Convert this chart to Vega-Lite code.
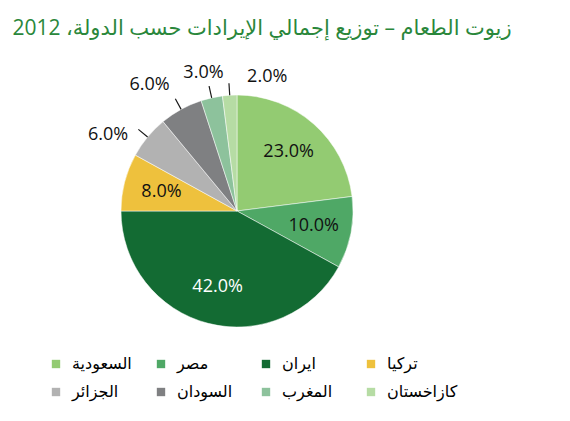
{
  "$schema": "https://vega.github.io/schema/vega-lite/v6.json",
  "autosize": {"type": "none"},
  "width": 474,
  "height": 302,
  "padding": {"top": 60, "left": 0, "right": 96, "bottom": 59},
  "background": "#ffffff",
  "title": {
    "text": "\u202bزيوت الطعام – توزيع إجمالي الإيرادات حسب الدولة، 2012\u202c",
    "font": "Open Sans, DejaVu Sans",
    "fontSize": 21,
    "fontWeight": "normal",
    "color": "#2a873b",
    "anchor": "middle",
    "frame": "group",
    "baseline": "alphabetic",
    "offset": 4,
    "dx": 25
  },
  "data": {
    "values": [
      {"country": "السعودية", "share": 0.23, "rank": 1},
      {"country": "مصر", "share": 0.10, "rank": 2},
      {"country": "ايران", "share": 0.42, "rank": 3},
      {"country": "تركيا", "share": 0.08, "rank": 4},
      {"country": "الجزائر", "share": 0.06, "rank": 5},
      {"country": "السودان", "share": 0.06, "rank": 6},
      {"country": "المغرب", "share": 0.03, "rank": 7},
      {"country": "كازاخستان", "share": 0.02, "rank": 8}
    ]
  },
  "encoding": {
    "theta": {"field": "share", "type": "quantitative", "stack": true},
    "order": {"field": "rank", "type": "quantitative"}
  },
  "layer": [
    {
      "mark": {"type": "arc", "radius": 116, "stroke": "#ffffff", "strokeWidth": 0.5},
      "encoding": {
        "color": {
          "field": "country",
          "type": "nominal",
          "sort": null,
          "scale": {
            "domain": ["السعودية", "مصر", "ايران", "تركيا", "الجزائر", "السودان", "المغرب", "كازاخستان"],
            "range": ["#93cb72", "#4fa866", "#136b33", "#eec13d", "#b2b2b2", "#7f8082", "#8dc29c", "#b6dca4"]
          },
          "legend": {
            "orient": "none",
            "legendX": 48,
            "legendY": 296,
            "direction": "horizontal",
            "columns": 4,
            "title": null,
            "padding": 0,
            "symbolType": "square",
            "symbolSize": 70,
            "symbolStrokeWidth": 0,
            "labelFont": "DejaVu Sans",
            "labelFontSize": 16,
            "labelColor": "#000000",
            "labelOffset": 8,
            "gridAlign": "all",
            "columnPadding": 10,
            "rowPadding": 12
          }
        }
      }
    },
    {
      "mark": {"type": "arc", "radius": 128, "radius2": 116, "padAngle": 3, "fillOpacity": 0, "stroke": "#1a1a1a", "strokeWidth": 1.2},
      "encoding": {
        "strokeOpacity": {"condition": {"test": "datum.share < 0.07", "value": 1}, "value": 0}
      }
    },
    {
      "mark": {"type": "text", "radius": 78, "font": "Open Sans", "fontSize": 18},
      "encoding": {
        "text": {"field": "share", "type": "quantitative", "format": ".1%"},
        "color": {"condition": {"test": "datum.share > 0.4", "value": "#ffffff"}, "value": "#111111"},
        "opacity": {"condition": {"test": "datum.share < 0.07", "value": 0}, "value": 1}
      }
    },
    {
      "mark": {
        "type": "text",
        "radius": 140,
        "font": "Open Sans",
        "fontSize": 18,
        "color": "#111111",
        "dx": {"expr": "datum.country == 'كازاخستان' ? 39 : datum.country == 'الجزائر' ? -21 : datum.country == 'السودان' ? -20 : -3"},
        "dy": {"expr": "datum.country == 'كازاخستان' ? 6 : datum.country == 'الجزائر' ? 13 : datum.country == 'السودان' ? -3 : -1"}
      },
      "encoding": {
        "text": {"field": "share", "type": "quantitative", "format": ".1%"},
        "opacity": {"condition": {"test": "datum.share < 0.07", "value": 1}, "value": 0}
      }
    }
  ]
}
